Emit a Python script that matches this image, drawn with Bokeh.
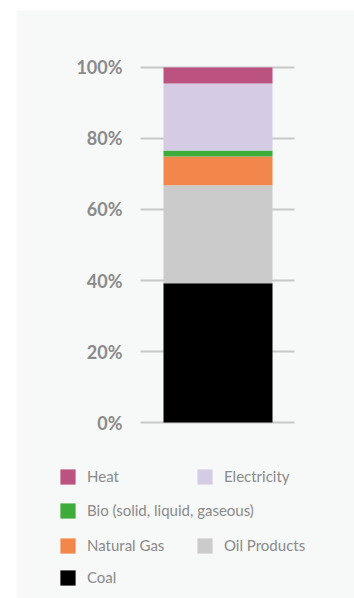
from bokeh.plotting import figure
from bokeh.models import (ColumnDataSource, Range1d, Legend, LegendItem, Spacer)
from bokeh.core.properties import value
from bokeh.layouts import column, row
from bokeh.embed import file_html
from bokeh.resources import INLINE

# ---- data (shares of total, %) ----
series_names = ["Coal", "Oil Products", "Natural Gas", "Bio (solid, liquid, gaseous)", "Electricity", "Heat"]
series_keys = ["coal", "oil", "gas", "bio", "elec", "heat"]
coal = [39.2]
oil_products = [27.6]
natural_gas = [8.1]
bio = [1.7]
electricity = [18.9]
heat = [4.5]
series_colors = ["#000000", "#cacbca", "#f2874b", "#3dac3a", "#d6cbe4", "#bc527f"]
y_ticks = [0, 20, 40, 60, 80, 100]
y_tick_labels = ["0%", "20%", "40%", "60%", "80%", "100%"]

# legend rows as in the reference
legend_rows = [["Heat", "Electricity"], ["Bio (solid, liquid, gaseous)"],
               ["Natural Gas", "Oil Products"], ["Coal"]]

PANEL = "#f7f8f8"
GREY_TEXT = "#8a8a8a"

# layout geometry (screen-like x, percent y)
BAR_X = 201.5
BAR_W = 109
GRID_X0, GRID_X1 = 124, 278
LABEL_X = 106

source = ColumnDataSource(dict(x=[BAR_X], coal=coal, oil=oil_products, gas=natural_gas,
                               bio=bio, elec=electricity, heat=heat))

p = figure(width=338, height=588, x_range=Range1d(0, 338), y_range=Range1d(-49.577, 116.056),
           output_backend="svg", toolbar_location=None,
           min_border_left=0, min_border_right=0, min_border_top=0, min_border_bottom=0)
p.axis.visible = False
p.grid.visible = False
p.background_fill_color = PANEL
p.border_fill_color = PANEL
p.outline_line_color = None

# gridlines and tick labels
grid_src = ColumnDataSource(dict(y=y_ticks, label=y_tick_labels))
p.segment(x0=GRID_X0, x1=GRID_X1, y0="y", y1="y", source=grid_src,
          line_color="#c8c8c8", line_width=2)
p.text(x=LABEL_X, y="y", text="label", source=grid_src, text_align="right",
       text_baseline="middle", text_font=value("Lato"), text_font_style="bold",
       text_font_size="18px", text_color=GREY_TEXT)

renderers = p.vbar_stack(series_keys, x="x", width=BAR_W, color=series_colors,
                         line_color=None, source=source)

by_name = dict(zip(series_names, renderers))
row_bottoms = [112.5, 78.5, 43.5, 11.5]
for names, vy in zip(legend_rows, row_bottoms):
    items = [LegendItem(label=n, renderers=[by_name[n]]) for n in names]
    lg = Legend(items=items, location=(42, vy), orientation="horizontal",
                glyph_width=19, glyph_height=19, label_height=19, label_width=105,
                label_standoff=10, spacing=3, padding=0, margin=0,
                border_line_color=None, background_fill_alpha=0,
                label_text_font="Lato", label_text_font_size="15px",
                label_text_color=GREY_TEXT)
    p.add_layout(lg, "center")

layout = column(Spacer(height=10), row(Spacer(width=16), p))

with open("out.html", "w") as f:
    f.write(file_html(layout, INLINE))
